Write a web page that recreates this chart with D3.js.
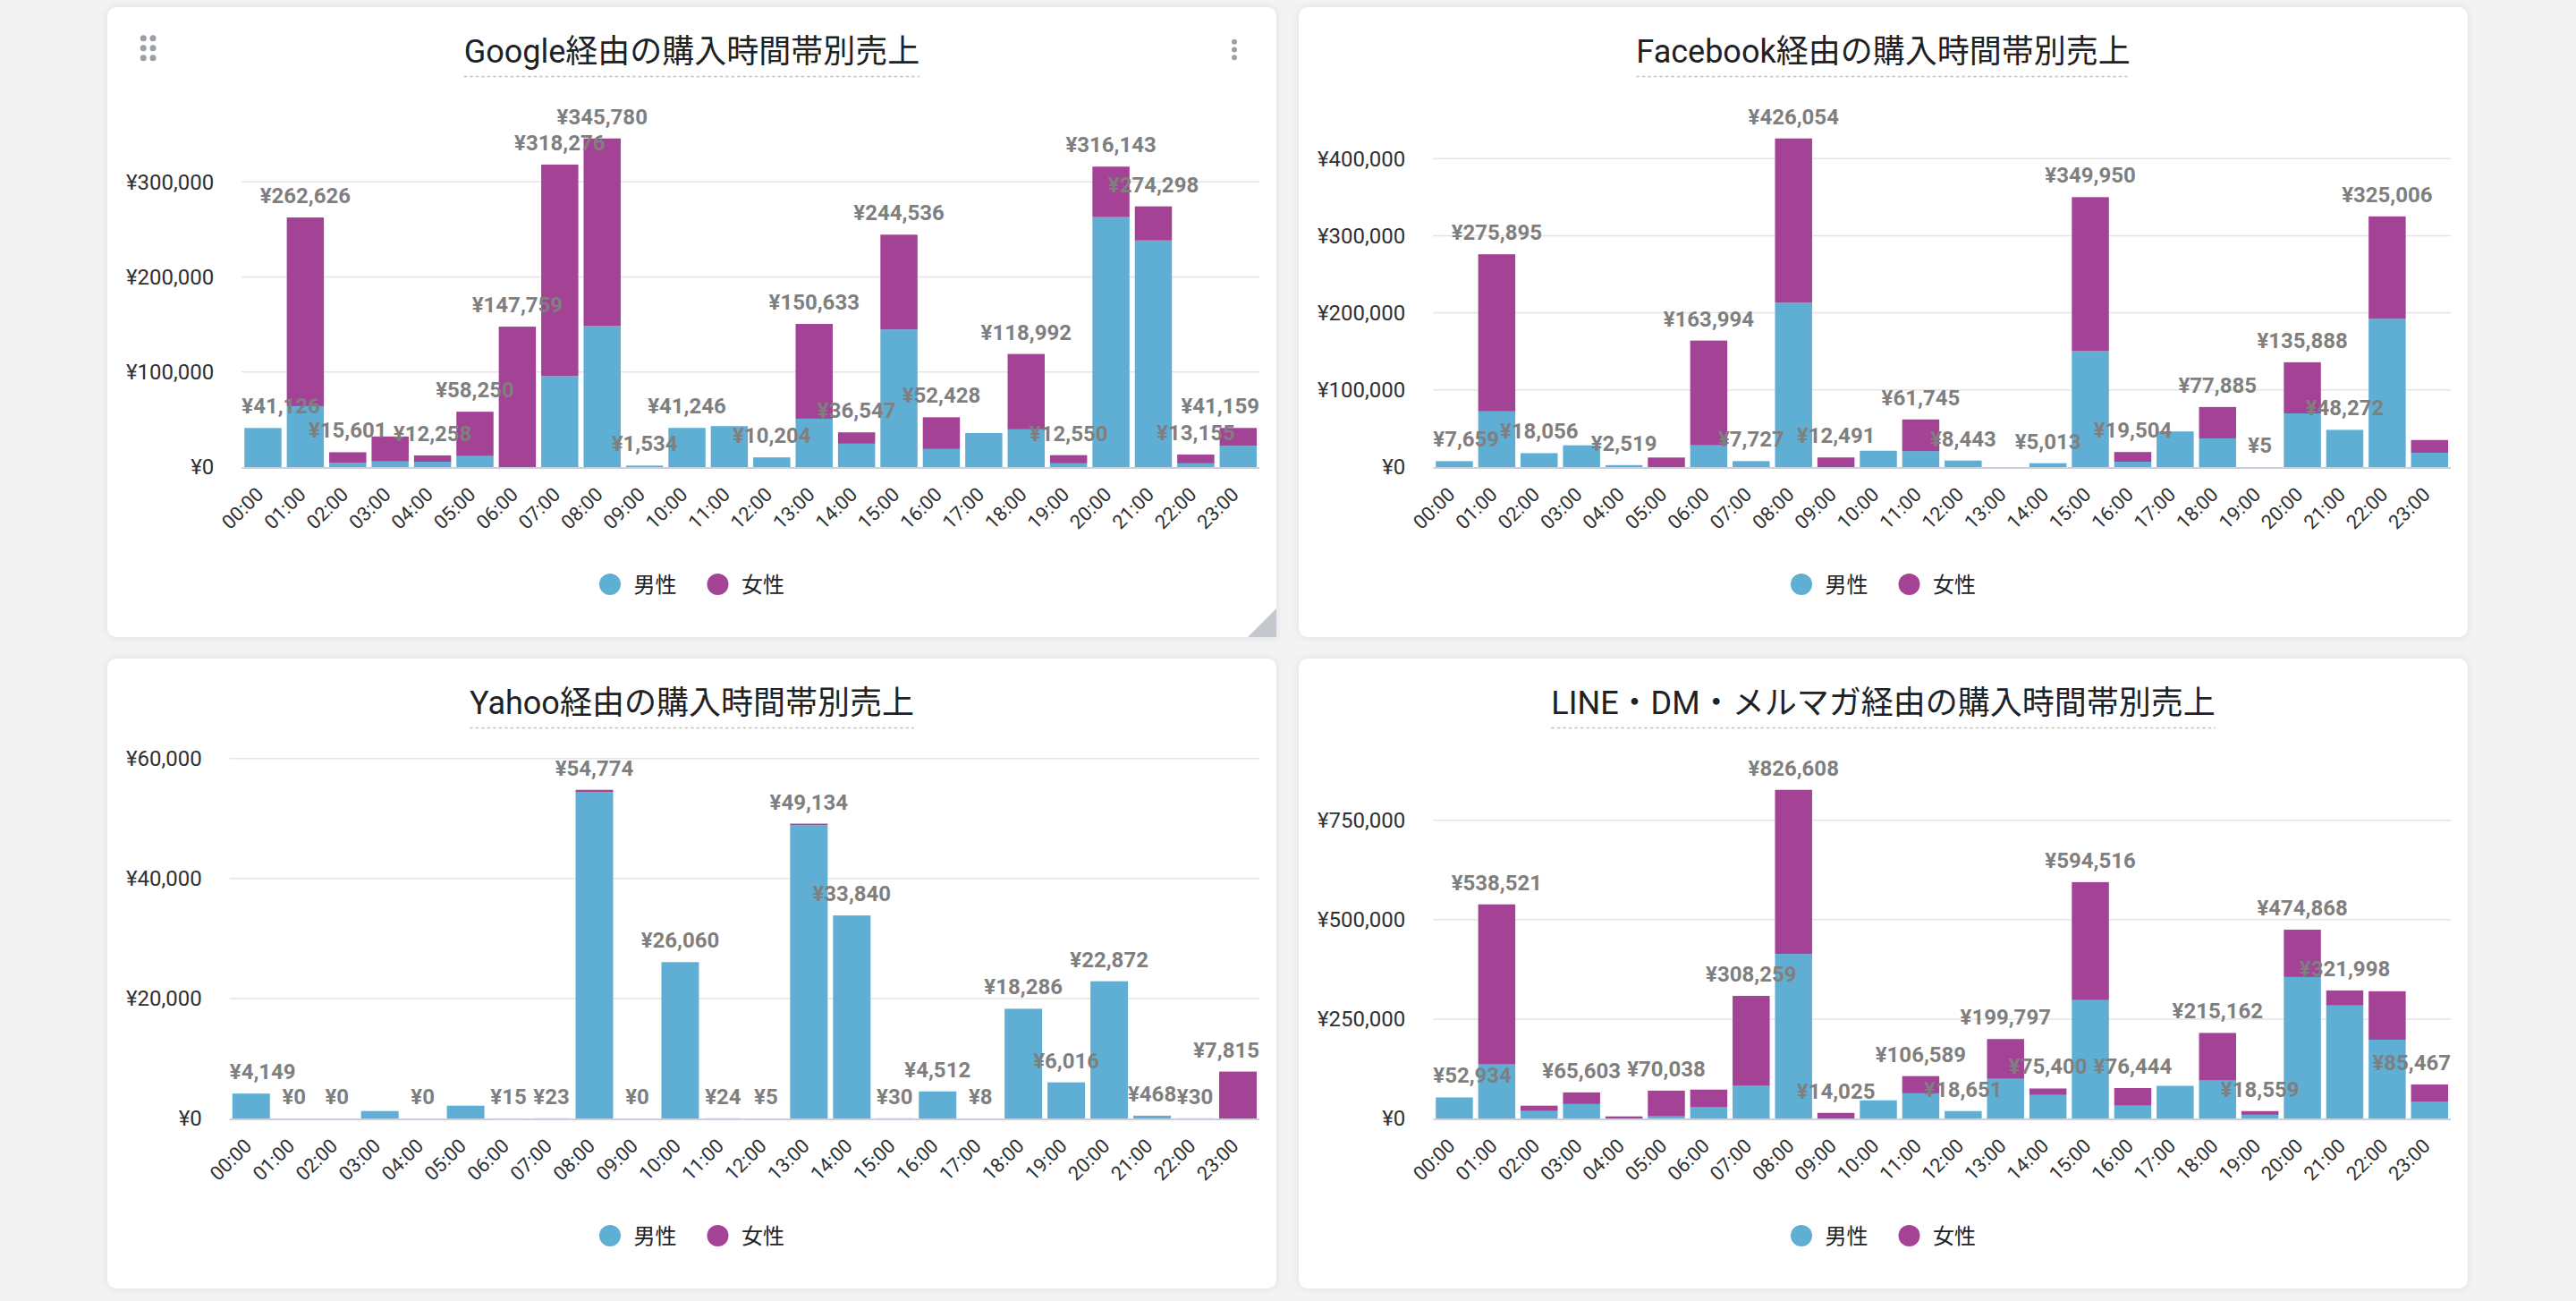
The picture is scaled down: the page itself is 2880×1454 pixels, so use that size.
<!DOCTYPE html>
<html>
<head>
<meta charset="utf-8">
<script src="https://cdn.jsdelivr.net/npm/d3@7/dist/d3.min.js"></script>
<style>
  html, body { margin: 0; padding: 0; }
  body {
    width: 2880px; height: 1454px; overflow: hidden;
    background: #f3f3f3;
    font-family: Roboto, "Noto Sans CJK JP", sans-serif;
  }
  .card {
    position: absolute;
    background: #fff;
    border-radius: 10px;
    box-shadow: 0 0 10px rgba(0,0,0,0.09);
  }
  .card svg { display: block; }
</style>
</head>
<body>
<script>
// hour buckets
const hours = ["00:00","01:00","02:00","03:00","04:00","05:00","06:00","07:00",
  "08:00","09:00","10:00","11:00","12:00","13:00","14:00","15:00",
  "16:00","17:00","18:00","19:00","20:00","21:00","22:00","23:00"];
const seriesNames = ["男性", "女性"];

// Google
const googleTitle = "Google経由の購入時間帯別売上";
const googleMale = [41126, 64100, 4500, 5900, 5600, 11600, 0, 95700, 148300, 1534, 41246, 43100,
  10204, 50900, 24600, 144800, 19000, 35800, 39700, 3900, 263000, 238400, 3900, 22400];
const googleFemale = [0, 198526, 11101, 26300, 6658, 46650, 147759, 222576, 197480, 0, 0, 0,
  0, 99733, 11947, 99736, 33428, 0, 79292, 8650, 53143, 35898, 9255, 18759];
const googleTicks = [0, 100000, 200000, 300000];
const googleHiddenLabels = [3, 11, 17];

// Facebook
const facebookTitle = "Facebook経由の購入時間帯別売上";
const facebookMale = [7659, 72200, 18056, 28200, 2519, 0, 28200, 7727, 213000, 0, 21200, 20700,
  8443, 0, 5013, 150300, 6900, 46200, 37200, 5, 69600, 48272, 192300, 18600];
const facebookFemale = [0, 203695, 0, 0, 0, 12400, 135794, 0, 213054, 12491, 0, 41045,
  0, 0, 0, 199650, 12604, 0, 40685, 0, 66288, 0, 132706, 16500];
const facebookTicks = [0, 100000, 200000, 300000, 400000];
const facebookHiddenLabels = [3, 5, 10, 13, 17, 23];

// Yahoo
const yahooTitle = "Yahoo経由の購入時間帯別売上";
const yahooMale = [4149, 0, 0, 1240, 0, 2130, 15, 23, 54440, 0, 26060, 24,
  5, 48880, 33840, 30, 4512, 8, 18286, 6016, 22872, 468, 30, 0];
const yahooFemale = [0, 0, 0, 0, 0, 0, 0, 0, 334, 0, 0, 0,
  0, 254, 0, 0, 0, 0, 0, 0, 0, 0, 0, 7815];
const yahooTicks = [0, 20000, 40000, 60000];
const yahooHiddenLabels = [3, 5];

// LINE・DM・メルマガ
const lineTitle = "LINE・DM・メルマガ経由の購入時間帯別売上";
const lineMale = [52934, 135900, 18700, 36300, 0, 5200, 28000, 82000, 413900, 0, 45600, 63300,
  18651, 99600, 59100, 297700, 32200, 82000, 95400, 9300, 355800, 284200, 198100, 41500];
const lineFemale = [0, 402621, 13500, 29303, 5200, 64838, 44600, 226259, 412708, 14025, 0, 43289,
  0, 100197, 16300, 296816, 44244, 0, 119762, 9259, 119068, 37798, 121900, 43967];
const lineTicks = [0, 250000, 500000, 750000];
const lineHiddenLabels = [2, 4, 6, 10, 17, 22];

const charts = [
  { title: googleTitle, male: googleMale, female: googleFemale, ticks: googleTicks, hidden: googleHiddenLabels, handles: true },
  { title: facebookTitle, male: facebookMale, female: facebookFemale, ticks: facebookTicks, hidden: facebookHiddenLabels },
  { title: yahooTitle, male: yahooMale, female: yahooFemale, ticks: yahooTicks, hidden: yahooHiddenLabels },
  { title: lineTitle, male: lineMale, female: lineFemale, ticks: lineTicks, hidden: lineHiddenLabels }
];

// layout
const cardX = [120, 1452], cardY = [8, 736];
const cardW = 1307, cardH = 704;
const plotRight = 1288, plotTop = 110, plotBottom = 514;
const colors = ["#5fafd5", "#a44395"];
const yen = v => "¥" + d3.format(",")(v);
const numFont = "Roboto, 'Noto Sans CJK JP', sans-serif";

function drawCard(cfg, i) {
  const col = i % 2, row = Math.floor(i / 2);
  const card = d3.select("body").append("div")
    .attr("class", "card")
    .style("left", cardX[col] + "px")
    .style("top", cardY[row] + "px")
    .style("width", cardW + "px")
    .style("height", cardH + "px");
  if (cfg.handles) card.style("border-bottom-right-radius", "0px");

  const svg = card.append("svg").attr("width", cardW).attr("height", cardH);

  // title + dashed underline
  const title = svg.append("text")
    .attr("x", cardW / 2).attr("y", 62)
    .attr("text-anchor", "middle")
    .attr("fill", "#202124")
    .style("font-family", numFont)
    .style("font-size", "36px")
    .text(cfg.title);
  const tb = title.node().getBBox();
  svg.append("line")
    .attr("x1", tb.x).attr("x2", tb.x + tb.width)
    .attr("y1", 77.5).attr("y2", 77.5)
    .attr("stroke", "#c4c4c4")
    .attr("stroke-width", 1.5)
    .attr("stroke-dasharray", "3.5,3");

  const totals = cfg.male.map((m, k) => m + cfg.female[k]);
  const y = d3.scaleLinear()
    .domain([0, d3.max(totals) * 1.1])
    .range([plotBottom, plotTop]);

  // y tick labels first so we can measure them
  const yLabels = svg.append("g");
  yLabels.selectAll("text")
    .data(cfg.ticks)
    .join("text")
    .attr("y", d => y(d))
    .attr("dy", "0.35em")
    .attr("text-anchor", "end")
    .attr("fill", "#303030")
    .style("font-family", numFont)
    .style("font-size", "24px")
    .text(yen);
  let maxW = 0;
  yLabels.selectAll("text").each(function () { maxW = Math.max(maxW, this.getComputedTextLength()); });
  const plotLeft = 21 + maxW + 31;
  yLabels.selectAll("text").attr("x", plotLeft - 31);

  const x = d3.scaleBand()
    .domain(hours)
    .range([plotLeft, plotRight])
    .paddingInner(0.125)
    .paddingOuter(0.0625);

  // gridlines
  svg.append("g")
    .selectAll("line")
    .data(cfg.ticks.filter(d => d > 0))
    .join("line")
    .attr("x1", plotLeft).attr("x2", plotRight)
    .attr("y1", d => y(d)).attr("y2", d => y(d))
    .attr("stroke", "#e4e4e4")
    .attr("stroke-width", 1.5);

  // stacked bars
  const rows = hours.map((h, k) => ({ hour: h, male: cfg.male[k], female: cfg.female[k] }));
  const stack = d3.stack().keys(["male", "female"])(rows);
  svg.append("g")
    .selectAll("g")
    .data(stack)
    .join("g")
    .attr("fill", (d, k) => colors[k])
    .selectAll("rect")
    .data(d => d)
    .join("rect")
    .attr("x", d => x(d.data.hour))
    .attr("width", x.bandwidth())
    .attr("y", d => y(d[1]))
    .attr("height", d => Math.max(0, y(d[0]) - y(d[1])));

  // baseline
  svg.append("line")
    .attr("x1", plotLeft).attr("x2", plotRight)
    .attr("y1", y(0) + 1).attr("y2", y(0) + 1)
    .attr("stroke", "#c8cfe0")
    .attr("stroke-width", 2);

  // x labels
  svg.append("g")
    .selectAll("text")
    .data(hours)
    .join("text")
    .attr("transform", d => `translate(${x(d) + x.bandwidth() / 2 + 2},${plotBottom + 32}) rotate(-45)`)
    .attr("text-anchor", "end")
    .attr("fill", "#303030")
    .style("font-family", numFont)
    .style("font-size", "22px")
    .text(d => d);

  // total labels, kept inside the plot area
  const shown = rows.map((r, k) => ({ hour: r.hour, total: totals[k], k }))
    .filter(d => !cfg.hidden.includes(d.k));
  svg.append("g")
    .selectAll("text")
    .data(shown)
    .join("text")
    .attr("y", d => y(d.total) - 16)
    .attr("text-anchor", "middle")
    .attr("fill", "#7f7f7f")
    .style("font-family", numFont)
    .style("font-size", "24px")
    .style("font-weight", "700")
    .text(d => yen(d.total))
    .each(function (d) {
      const w = this.getComputedTextLength();
      let cx = x(d.hour) + x.bandwidth() / 2;
      cx = Math.max(plotLeft + w / 2, Math.min(plotRight - w / 2, cx));
      d3.select(this).attr("x", cx);
    });

  // legend
  const legend = svg.append("g");
  const items = legend.selectAll("g")
    .data(seriesNames)
    .join("g");
  items.append("circle")
    .attr("r", 12)
    .attr("cx", 12)
    .attr("cy", 0)
    .attr("fill", (d, k) => colors[k]);
  items.append("text")
    .attr("x", 38.5)
    .attr("y", 0)
    .attr("dy", "0.36em")
    .attr("fill", "#202124")
    .style("font-family", "'Noto Sans CJK JP', sans-serif")
    .style("font-size", "24px")
    .text(d => d);
  let lx = 0;
  items.each(function () {
    d3.select(this).attr("transform", `translate(${lx},0)`);
    lx += this.getBBox().width + 34;
  });
  const lw = lx - 34;
  legend.attr("transform", `translate(${cardW / 2 - lw / 2},645)`);

  if (cfg.handles) {
    // drag handle
    svg.append("g")
      .selectAll("circle")
      .data(d3.cross([40.3, 51], [34.7, 45.7, 56.7]))
      .join("circle")
      .attr("cx", d => d[0]).attr("cy", d => d[1])
      .attr("r", 3.5)
      .attr("fill", "#9aa0a6");
    // kebab menu
    svg.append("g")
      .selectAll("circle")
      .data([38.7, 47.4, 56.3])
      .join("circle")
      .attr("cx", 1260).attr("cy", d => d)
      .attr("r", 3)
      .attr("fill", "#9aa0a6");
    // resize corner
    svg.append("path")
      .attr("d", `M${cardW},${cardH - 32}L${cardW},${cardH}L${cardW - 32},${cardH}Z`)
      .attr("fill", "#c5c8ce");
  }
}

charts.forEach(drawCard);
</script>
</body>
</html>
